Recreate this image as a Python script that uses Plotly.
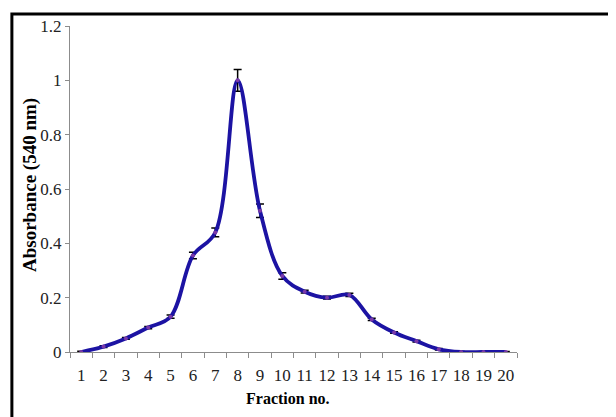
import plotly.graph_objects as go

fractions = [str(i) for i in range(1, 21)]
absorbance = [0.0, 0.02, 0.05, 0.09, 0.13, 0.355, 0.44, 1.0, 0.52, 0.28,
              0.222, 0.2, 0.21, 0.12, 0.072, 0.04, 0.01, 0.0, 0.0, 0.0]
errors = [0.003, 0.003, 0.003, 0.004, 0.006, 0.012, 0.016, 0.04, 0.025, 0.012,
          0.005, 0.005, 0.006, 0.004, 0.003, 0.003, 0.003, 0.002, 0.002, 0.002]
y_ticks = [0, 0.2, 0.4, 0.6, 0.8, 1, 1.2]
y_tick_text = ["0", "0.2", "0.4", "0.6", "0.8", "1", "1.2"]

fig = go.Figure()
fig.add_trace(go.Scatter(
    x=fractions, y=absorbance,
    mode="lines+markers",
    line=dict(color="#1c13a3", width=3.8, shape="spline", smoothing=1.0),
    marker=dict(color="#7a3aa8", size=4),
    error_y=dict(type="data", array=errors, visible=True, color="black",
                 thickness=1.5, width=4),
    showlegend=False,
))

fig.update_layout(
    width=616, height=417,
    margin=dict(l=62, r=107, t=18, b=73),
    paper_bgcolor="white", plot_bgcolor="white",
    font=dict(family="Liberation Serif", size=17, color="black"),
    xaxis=dict(
        type="category", tickson="boundaries", tickangle=0, automargin=False,
        range=[-0.5, len(fractions) - 0.5],
        showline=True, linecolor="#8c8c8c", linewidth=1,
        ticks="outside", ticklen=5, tickcolor="#8c8c8c",
        ticklabelstandoff=8,
        showgrid=False, zeroline=False,
        tickfont=dict(size=17, color="#222222"),
    ),
    yaxis=dict(
        range=[0, 1.2], tickvals=y_ticks, ticktext=y_tick_text, automargin=False,
        showline=True, linecolor="#8c8c8c", linewidth=1,
        ticks="outside", ticklen=4, tickcolor="#8c8c8c",
        showgrid=False, zeroline=False,
        tickfont=dict(size=17, color="#222222"),
    ),
    annotations=[
        dict(text="<b>Fraction no.</b>", xref="paper", yref="paper",
             x=(288 - 70) / 447, y=(352 - 398) / 326, xanchor="center", yanchor="middle",
             showarrow=False, font=dict(size=16)),
        dict(text="<b>Absorbance (540 nm)</b>", xref="paper", yref="paper",
             x=(30 - 70) / 447, y=(352 - 185) / 326, xanchor="center", yanchor="middle",
             textangle=-90, showarrow=False, font=dict(size=19)),
    ],
    shapes=[dict(type="rect", xref="paper", yref="paper",
                 x0=-0.13, x1=1.4, y0=-0.4, y1=1.037,
                 line=dict(color="black", width=3), layer="above")],
)

fig.write_html("out.html")
